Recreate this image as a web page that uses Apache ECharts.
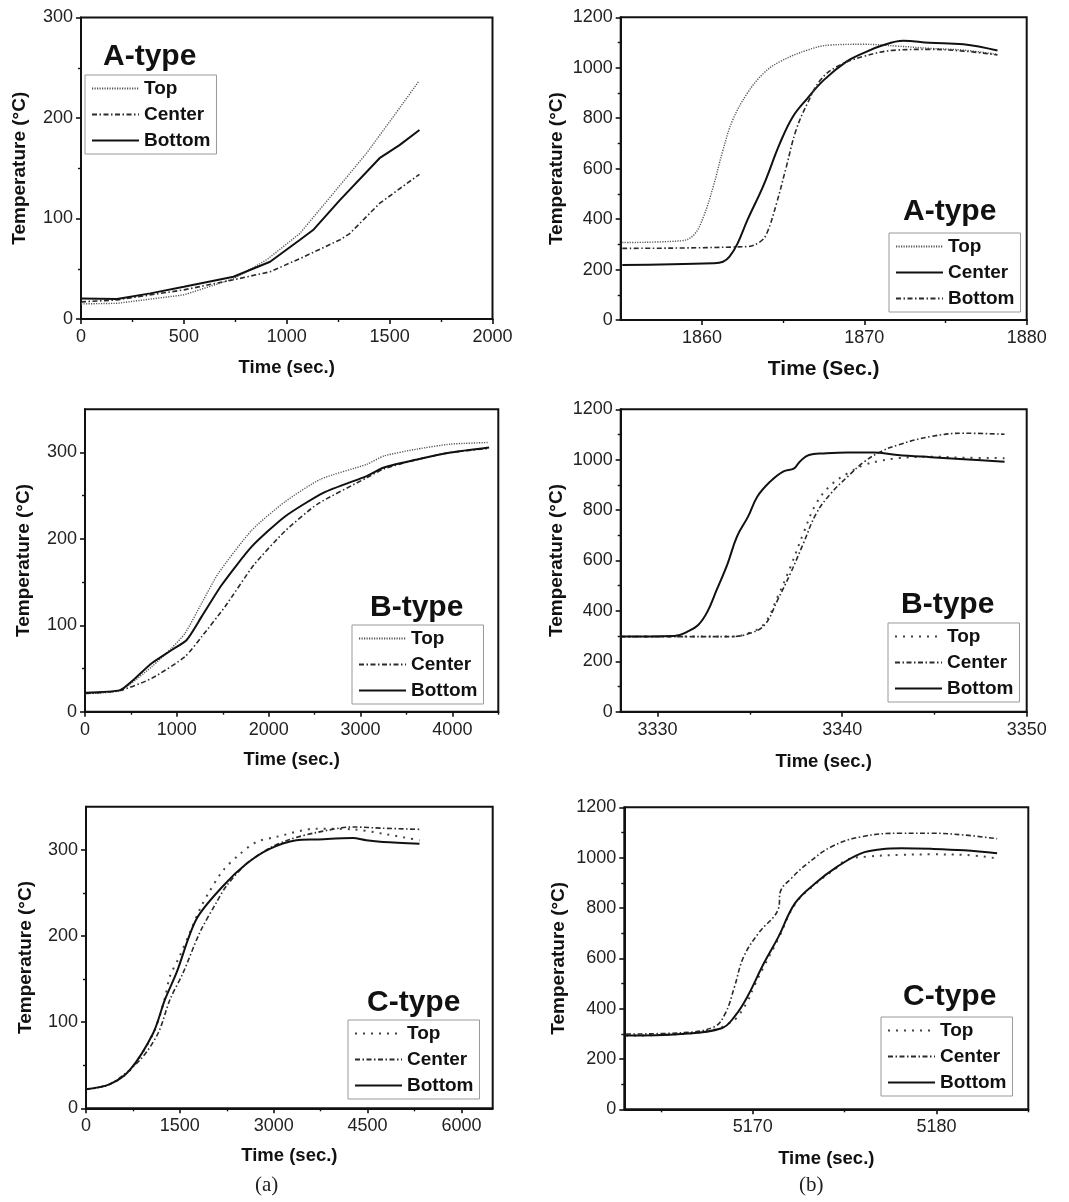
<!DOCTYPE html>
<html><head><meta charset="utf-8">
<script src="https://cdn.jsdelivr.net/npm/echarts@6/dist/echarts.min.js"></script>
<style>html,body{margin:0;padding:0;background:#fff}#c{width:1069px;height:1202px}</style>
</head><body><div id="c"></div>
<script>
// ---------- DATA ----------
const seriesNames = ['Top', 'Center', 'Bottom'];

// Panel A-type (left)
const a1TopT = [0,175,500,741,903,1063,1226,1388,1517,1640];
const a1TopV = [15,15.6,24,40,59,85,125,165,201,236];
const a1CenT = [0,175,500,741,919,1063,1257,1306,1451,1645];
const a1CenV = [17,19,29,39,47,60,78.6,85,115,144];
const a1BotT = [0,175,337,500,741,919,1063,1128,1257,1451,1548,1645];
const a1BotV = [20.5,20,25.5,32,42,57,78.6,88.5,118,160,173,188];

// Panel A-type (right)
const a2TopT = [1855.1,1858.7,1859.5,1860.1,1860.7,1861.3,1861.9,1862.8,1863.8,1864.8,1866.5,1867.9,1869.9,1872,1874,1876.1,1878.2];
const a2TopV = [307,314,337,410,529,674,793,899,978,1024,1070,1090,1093,1086,1077,1070,1053];
const a2CenT = [1855.1,1860.7,1861.3,1861.7,1862.2,1862.8,1863.8,1864.8,1865.6,1866.5,1867.5,1868.9,1869.9,1871,1872.4,1874,1876.1,1878.2];
const a2CenV = [218,225,231,251,304,396,535,700,806,879,951,1024,1057,1086,1107,1099,1093,1068];
const a2BotT = [1855.1,1862.8,1863.6,1864,1864.6,1865.2,1865.8,1866.5,1867.3,1868.3,1869.9,1872,1874,1876.1,1878.2];
const a2BotV = [284,291,311,344,463,608,753,859,951,1004,1044,1070,1073,1066,1051];

// Panel B-type (left)
const b1TopT = [0,382,726,944,1089,1270,1451,1815,2178,2563,3072,3254,3618,3981,4400];
const b1TopV = [21,24.5,52,73.7,90.7,125.5,160,210,243,269,286.5,296,304,309.7,311.6];
const b1CenT = [0,382,726,1089,1270,1524,1840,2178,2527,3072,3254,3618,3981,4400];
const b1CenV = [21,24.5,38.6,63.7,86.8,121.5,170,209,240,271,281,292,300,304.7];
const b1BotT = [0,382,527,726,944,1107,1270,1488,1815,2178,2600,3072,3254,3618,3981,4400];
const b1BotV = [22,25,36.8,56,71.4,83,110,146.6,191,226,253.6,273,282.6,292,300,305.8];

// Panel B-type (right)
const b2TopT = [3328,3334,3335,3335.8,3336.5,3337.2,3337.9,3338.6,3339.4,3340.3,3341.2,3342.1,3343,3344.8,3346.6,3348.8];
const b2TopV = [298,298,314,351,456,575,708,827,900,946,979,996,1006,1012,1008,1006];
const b2CenT = [3328,3334,3335,3335.8,3336.5,3337.2,3337.9,3338.6,3339.4,3340.3,3341.2,3342.1,3343,3344.8,3346.6,3348.8];
const b2CenV = [298,298,311,344,443,549,668,787,867,933,992,1032,1058,1092,1105,1101];
const b2BotT = [3328,3330.9,3331.6,3332.2,3332.7,3333.2,3333.8,3334.3,3334.9,3335.4,3336.1,3336.8,3337.4,3337.7,3338.2,3339,3340.3,3341.7,3343,3344.8,3346.6,3348.8];
const b2BotV = [298,300,317,344,397,483,589,695,774,853,913,953,966,992,1019,1025,1029,1029,1019,1010,1002,992];

// Panel C-type (left)
const c1TopT = [0,383,702,1075,1261,1341,1500,1660,1819,1952,2191,2458,2724,3043,3681,4266,4745,5330];
const c1TopV = [22,28,44,87,128,153,177,204,231,249,276,295,309,315,324.5,323.7,318.7,311];
const c1CenT = [0,383,862,1154,1341,1553,1819,2085,2245,2564,2936,3255,3681,4266,4745,5330];
const c1CenV = [22,28,56,87.4,126,157.4,204,239,258,283.7,302,312,320,326.5,325,323.7];
const c1BotT = [0,383,702,1075,1261,1447,1766,2191,2564,2936,3362,3681,4266,4479,4745,5330];
const c1BotV = [22,28,44.6,87.4,126,157.4,219.6,258,283.7,301,311,312,313.6,311,309,307];

// Panel C-type (right)
const c2TopT = [5163.1,5166.1,5168,5168.7,5169.1,5169.7,5170.1,5170.6,5171.4,5172.3,5173.4,5174.6,5175.1,5176.2,5178.1,5179.7,5181.5,5183.3];
const c2TopV = [293,299,318,342,362,428,494,567,680,815,895,962,991,1004,1011,1013,1011,997];
const c2CenT = [5163.1,5166.1,5167.9,5168.5,5169,5169.5,5170.3,5171.4,5171.5,5172.1,5173,5174.3,5175.9,5178.1,5179.7,5181.5,5183.3];
const c2CenV = [299,304,328,381,487,606,699,799,865,918,978,1044,1083,1097,1097,1090,1075];
const c2BotT = [5163.1,5166.1,5168.3,5169,5169.7,5170.6,5171.4,5172.3,5173.4,5174.6,5175.9,5177,5178.1,5179.7,5181.5,5183.3];
const c2BotV = [293,299,322,368,447,580,686,819,898,964,1017,1033,1037,1035,1029,1017];

// Axis ticks
const a1XMajor = [0,500,1000,1500,2000], a1XMinor = [250,750,1250,1750];
const lowYMajor300 = [0,100,200,300], lowYMinor300 = [50,150,250];
const lowYMinor350 = [50,150,250];
const hiYMajor = [0,200,400,600,800,1000,1200], hiYMinor = [100,300,500,700,900,1100];
const a2XMajor = [1860,1870,1880], a2XMinor = [1865,1875];
const b1XMajor = [0,1000,2000,3000,4000], b1XMinor = [500,1500,2500,3500,4500];
const b2XMajor = [3330,3340,3350], b2XMinor = [3335,3345];
const c1XMajor = [0,1500,3000,4500,6000], c1XMinor = [750,2250,3750,5250];
const c2XMajor = [5170,5180], c2XMinor = [5165,5175,5185];

// ---------- STYLE / LAYOUT ----------
const FONT = 'Liberation Sans, Arial, Helvetica, sans-serif';
const DOT_FINE = {type:[1.2,1.3], width:1.4, color:'#555'};
const DOT_WIDE = {type:[2,6], width:2, color:'#444'};
const DASHDOT = {type:[5,2.5,1.5,2.5], width:1.6, color:'#2a2a2a'};
const SOLID = {type:'solid', width:2, color:'#111'};
const zip = (t, v) => t.map((x, i) => [x, v[i]]);

const panels = [
  {grid:{left:81,top:17.5,width:411.5,height:301.5}, x:[0,2000], y:[0,300], xMaj:a1XMajor, xMin:a1XMinor, yMaj:lowYMajor300, yMin:lowYMinor300,
   xName:'Time (sec.)', xNameSize:18.5, xGap:39, yGap:52, smooth:0,
   data:[[a1TopT,a1TopV],[a1CenT,a1CenV],[a1BotT,a1BotV]], styles:[DOT_FINE,DASHDOT,SOLID],
   legend:{left:85,top:75}, title:{text:'A-type',left:103,top:42}},
  {grid:{left:620.7,top:17.3,width:406,height:302.7}, x:[1855,1880], y:[0,1200], xMaj:a2XMajor, xMin:a2XMinor, yMaj:hiYMajor, yMin:hiYMinor,
   xName:'Time (Sec.)', xNameSize:21, xGap:39, yGap:54, smooth:0.4,
   data:[[a2TopT,a2TopV],[a2CenT,a2CenV],[a2BotT,a2BotV]], styles:[DOT_FINE,SOLID,DASHDOT],
   legend:{left:889,top:233}, title:{text:'A-type',left:903,top:197}},
  {grid:{left:85,top:409.3,width:413.3,height:302.4}, x:[0,4500], y:[0,350], xMaj:b1XMajor, xMin:b1XMinor, yMaj:lowYMajor300, yMin:lowYMinor350,
   xName:'Time (sec.)', xNameSize:18.5, xGap:39, yGap:52, smooth:0.2,
   data:[[b1TopT,b1TopV],[b1CenT,b1CenV],[b1BotT,b1BotV]], styles:[DOT_FINE,DASHDOT,SOLID],
   legend:{left:352,top:625}, title:{text:'B-type',left:370,top:593}},
  {grid:{left:620.7,top:409.3,width:406,height:302.4}, x:[3328,3350], y:[0,1200], xMaj:b2XMajor, xMin:b2XMinor, yMaj:hiYMajor, yMin:hiYMinor,
   xName:'Time (sec.)', xNameSize:18.5, xGap:41, yGap:54, smooth:0.4,
   data:[[b2TopT,b2TopV],[b2CenT,b2CenV],[b2BotT,b2BotV]], styles:[DOT_WIDE,DASHDOT,SOLID],
   legend:{left:888,top:623}, title:{text:'B-type',left:901,top:590}},
  {grid:{left:86,top:806.7,width:406.7,height:301.6}, x:[0,6500], y:[0,350], xMaj:c1XMajor, xMin:c1XMinor, yMaj:lowYMajor300, yMin:lowYMinor300,
   xName:'Time (sec.)', xNameSize:18.5, xGap:38, yGap:51, smooth:0.3,
   data:[[c1TopT,c1TopV],[c1CenT,c1CenV],[c1BotT,c1BotV]], styles:[DOT_WIDE,DASHDOT,SOLID],
   legend:{left:348,top:1020}, title:{text:'C-type',left:367,top:988}},
  {grid:{left:624.3,top:807.3,width:404,height:302}, x:[5163,5185], y:[0,1200], xMaj:c2XMajor, xMin:c2XMinor, yMaj:hiYMajor, yMin:hiYMinor,
   xName:'Time (sec.)', xNameSize:18.5, xGap:40, yGap:56, smooth:0.4,
   data:[[c2TopT,c2TopV],[c2CenT,c2CenV],[c2BotT,c2BotV]], styles:[DOT_WIDE,DASHDOT,SOLID],
   legend:{left:881,top:1017}, title:{text:'C-type',left:903,top:982}}
];

const option = {animation:false, backgroundColor:'#fff', grid:[], xAxis:[], yAxis:[], series:[], legend:[], title:[]};
const AX = '#111';
const plain = v => String(v);
panels.forEach((p, i) => {
  option.grid.push(Object.assign({show:true, borderColor:AX, borderWidth:2, containLabel:false}, p.grid));
  const labelStyle = {fontSize:18, color:'#222', fontFamily:FONT, formatter:plain};
  option.xAxis.push({type:'value', gridIndex:i, position:'bottom', min:p.x[0], max:p.x[1],
    axisLine:{show:true, onZero:false, lineStyle:{color:AX, width:2}},
    axisTick:{show:true, customValues:p.xMaj, length:5, lineStyle:{color:AX, width:1.6}},
    axisLabel:Object.assign({customValues:p.xMaj, margin:9}, labelStyle),
    splitLine:{show:false},
    name:p.xName, nameLocation:'middle', nameGap:p.xGap,
    nameTextStyle:{fontSize:p.xNameSize, fontWeight:'bold', color:'#111', fontFamily:FONT}});
  option.xAxis.push({type:'value', gridIndex:i, position:'bottom', min:p.x[0], max:p.x[1],
    axisLine:{show:false}, axisTick:{show:true, customValues:p.xMin, length:3, lineStyle:{color:AX, width:1.4}},
    axisLabel:{show:false}, splitLine:{show:false}});
  option.yAxis.push({type:'value', gridIndex:i, position:'left', min:p.y[0], max:p.y[1],
    axisLine:{show:true, onZero:false, lineStyle:{color:AX, width:2}},
    axisTick:{show:true, customValues:p.yMaj, length:5, lineStyle:{color:AX, width:1.6}},
    axisLabel:Object.assign({customValues:p.yMaj, margin:8}, labelStyle),
    splitLine:{show:false},
    name:'Temperature (°C)', nameLocation:'middle', nameGap:p.yGap, nameRotate:90,
    nameTextStyle:{fontSize:19, fontWeight:'bold', color:'#111', fontFamily:FONT}});
  option.yAxis.push({type:'value', gridIndex:i, position:'left', min:p.y[0], max:p.y[1],
    axisLine:{show:false}, axisTick:{show:true, customValues:p.yMin, length:3, lineStyle:{color:AX, width:1.4}},
    axisLabel:{show:false}, splitLine:{show:false}});
  const names = [];
  p.data.forEach((d, k) => {
    const nm = seriesNames[k] + '#' + i;
    names.push(nm);
    option.series.push({type:'line', name:nm, xAxisIndex:2*i, yAxisIndex:2*i, data:zip(d[0], d[1]),
      symbol:'none', showSymbol:false, smooth:p.smooth, lineStyle:p.styles[k],
      itemStyle:{color:p.styles[k].color}, z:3});
  });
  option.legend.push({data:names, orient:'vertical', left:p.legend.left, top:p.legend.top, selectedMode:false,
    itemWidth:47, itemHeight:12, itemGap:7, padding:[4,6,4,6], borderColor:'#999', borderWidth:1, backgroundColor:'#fff',
    itemStyle:{opacity:0, color:'rgba(0,0,0,0)', borderWidth:0},
    formatter:n => n.split('#')[0],
    textStyle:{fontSize:19, fontWeight:'bold', color:'#111', fontFamily:FONT}});
  option.title.push({text:p.title.text, left:p.title.left, top:p.title.top, padding:0,
    textStyle:{fontSize:30, fontWeight:'bold', color:'#111', fontFamily:FONT}});
});
option.title.push({text:'(a)', left:255, top:1175, padding:0, textStyle:{fontSize:21, fontWeight:'normal', color:'#222', fontFamily:'Liberation Serif, Times New Roman, serif'}});
option.title.push({text:'(b)', left:799, top:1175, padding:0, textStyle:{fontSize:21, fontWeight:'normal', color:'#222', fontFamily:'Liberation Serif, Times New Roman, serif'}});

const chart = echarts.init(document.getElementById('c'), null, {renderer:'canvas'});
chart.setOption(option);
</script></body></html>
